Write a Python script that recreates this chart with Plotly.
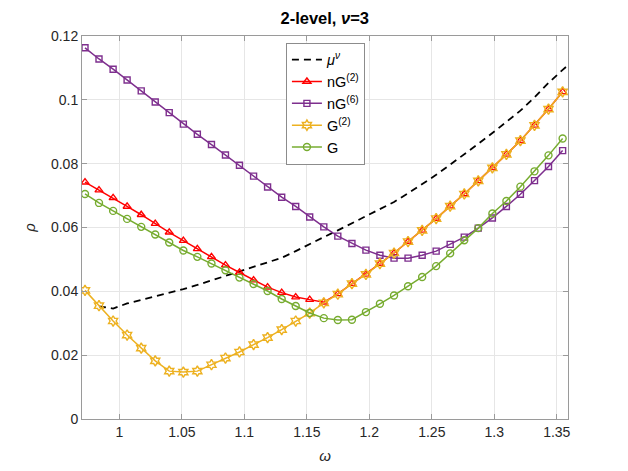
import plotly.graph_objects as go

omega = [0.9725, 0.9837, 0.9950, 1.0062, 1.0175, 1.0287, 1.0399, 1.0512, 1.0624, 1.0737,
         1.0849, 1.0961, 1.1074, 1.1186, 1.1299, 1.1411, 1.1523, 1.1636, 1.1748, 1.1861,
         1.1973, 1.2085, 1.2198, 1.2310, 1.2423, 1.2535, 1.2647, 1.2760, 1.2872, 1.2985,
         1.3097, 1.3209, 1.3322, 1.3434, 1.3547]

mu_omega = omega[1:] + [1.3620]
mu_nu = [0.0353, 0.0346, 0.0362, 0.0373, 0.0384, 0.0395, 0.0407, 0.0420, 0.0434, 0.0448,
         0.0461, 0.0477, 0.0491, 0.0505, 0.0526, 0.0549, 0.0570, 0.0591, 0.0614, 0.0636,
         0.0658, 0.0680, 0.0707, 0.0735, 0.0765, 0.0797, 0.0829, 0.0862, 0.0896, 0.0931,
         0.0966, 0.1008, 0.1053, 0.1094, 0.1118]

G2 = [0.0403, 0.0355, 0.0307, 0.0263, 0.0222, 0.0182, 0.0150, 0.0147, 0.0150, 0.0170,
      0.0191, 0.0210, 0.0233, 0.0255, 0.0280, 0.0307, 0.0332, 0.0364, 0.0391, 0.0424,
      0.0453, 0.0487, 0.0520, 0.0556, 0.0591, 0.0628, 0.0667, 0.0705, 0.0746, 0.0787,
      0.0829, 0.0872, 0.0920, 0.0971, 0.1025]

nG2 = [0.0742, 0.0717, 0.0693, 0.0666, 0.0640, 0.0612, 0.0585, 0.0559, 0.0533, 0.0508,
       0.0482, 0.0459, 0.0435, 0.0413, 0.0396, 0.0382, 0.0374, 0.0366, 0.0392, 0.0424,
       0.0453, 0.0487, 0.0520, 0.0556, 0.0591, 0.0628, 0.0667, 0.0705, 0.0746, 0.0787,
       0.0829, 0.0872, 0.0920, 0.0971, 0.1025]

nG6 = [0.1163, 0.1128, 0.1096, 0.1062, 0.1028, 0.0993, 0.0960, 0.0924, 0.0892, 0.0860,
       0.0827, 0.0795, 0.0761, 0.0727, 0.0695, 0.0666, 0.0633, 0.0602, 0.0573, 0.0550,
       0.0529, 0.0513, 0.0504, 0.0504, 0.0513, 0.0526, 0.0547, 0.0570, 0.0598, 0.0630,
       0.0666, 0.0704, 0.0747, 0.0791, 0.0841]

G = [0.0705, 0.0677, 0.0652, 0.0627, 0.0602, 0.0578, 0.0553, 0.0528, 0.0508, 0.0487,
     0.0466, 0.0443, 0.0423, 0.0401, 0.0376, 0.0354, 0.0332, 0.0316, 0.0310, 0.0311,
     0.0335, 0.0361, 0.0387, 0.0416, 0.0445, 0.0479, 0.0519, 0.0560, 0.0598, 0.0644,
     0.0683, 0.0728, 0.0776, 0.0826, 0.0879]

x_ticks = [1, 1.05, 1.1, 1.15, 1.2, 1.25, 1.3, 1.35]
x_tick_labels = ["1", "1.05", "1.1", "1.15", "1.2", "1.25", "1.3", "1.35"]
y_ticks = [0, 0.02, 0.04, 0.06, 0.08, 0.1, 0.12]
y_tick_labels = ["0", "0.02", "0.04", "0.06", "0.08", "0.1", "0.12"]

FONT = "Liberation Sans, Arial, Helvetica, sans-serif"
AX = "#9a9a9a"

fig = go.Figure()
fig.add_trace(go.Scatter(x=mu_omega, y=mu_nu, mode="lines", name="<i>μ</i><sup><i>ν</i></sup>",
                         line=dict(color="black", width=1.8, dash="7px,5px")))
fig.add_trace(go.Scatter(x=omega, y=nG2, mode="lines+markers", name="nG<sup>(2)</sup>",
                         line=dict(color="#FF0000", width=1.5),
                         marker=dict(symbol="triangle-up-open", size=7, color="#FF0000",
                                     line=dict(width=1.4, color="#FF0000"))))
fig.add_trace(go.Scatter(x=omega, y=nG6, mode="lines+markers", name="nG<sup>(6)</sup>",
                         line=dict(color="#7E2F8E", width=1.5),
                         marker=dict(symbol="square-open", size=6, color="#7E2F8E",
                                     line=dict(width=1.4, color="#7E2F8E"))))
fig.add_trace(go.Scatter(x=omega, y=G2, mode="lines+markers", name="G<sup>(2)</sup>",
                         line=dict(color="#EDB120", width=1.5),
                         marker=dict(symbol="hexagram-open", size=8, color="#EDB120",
                                     line=dict(width=1.4, color="#EDB120"))))
fig.add_trace(go.Scatter(x=omega, y=G, mode="lines+markers", name="G",
                         line=dict(color="#77AC30", width=1.5),
                         marker=dict(symbol="circle-open", size=7, color="#77AC30",
                                     line=dict(width=1.4, color="#77AC30"))))

axis_common = dict(showline=True, linecolor=AX, linewidth=1, mirror="ticks",
                   ticks="inside", ticklen=5, tickcolor=AX, showgrid=True,
                   gridcolor="#e6e6e6", gridwidth=1, zeroline=False,
                   tickfont=dict(family=FONT, size=14, color="#262626"))

fig.update_layout(
    width=628, height=471,
    margin=dict(l=74, r=68, t=28, b=60),
    paper_bgcolor="white", plot_bgcolor="white",
    font=dict(family=FONT, size=14, color="#262626"),
    title=dict(text="<b>2-level, <i>ν</i>=3</b>", x=(82 + 567.5) / 2 / 628 - 8 / 628,
               xanchor="center", y=1 - 10 / 471, yanchor="middle", yref="container",
               font=dict(family=FONT, size=16.5, color="black")),
    xaxis=dict(range=[0.9701, 1.3590], tickvals=x_ticks, ticktext=x_tick_labels,
               title=dict(text="<i>ω</i>", standoff=11, font=dict(family=FONT, size=15)),
               **axis_common),
    yaxis=dict(range=[0, 0.12], tickvals=y_ticks, ticktext=y_tick_labels,
               title=dict(text="<i>ρ</i>", standoff=11, font=dict(family=FONT, size=15)),
               **axis_common),
    legend=dict(x=0.4196, y=0.9825, xanchor="left", yanchor="top",
                bgcolor="white", bordercolor="#8c8c8c", borderwidth=1,
                font=dict(family=FONT, size=14.5, color="black"), itemwidth=30,
                tracegroupgap=0),
    showlegend=True,
)

fig.write_html("out.html")
